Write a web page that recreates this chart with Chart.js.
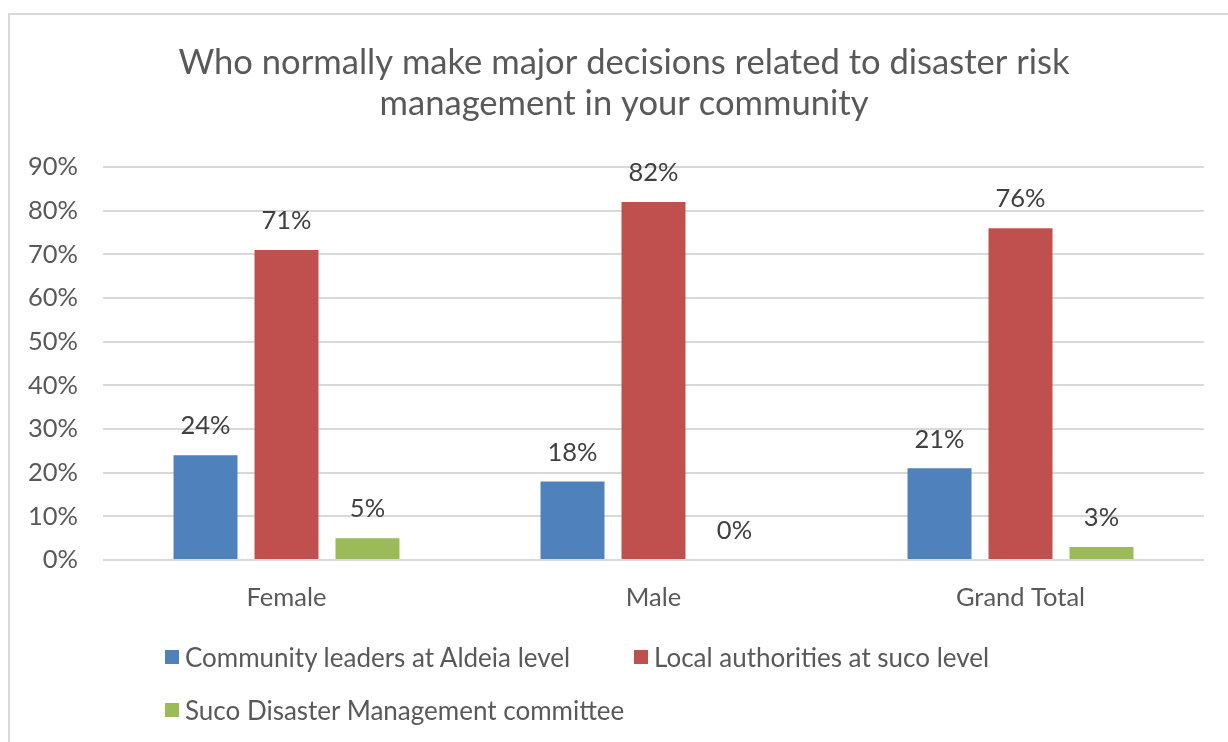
<!DOCTYPE html>
<html>
<head>
<meta charset="utf-8">
<script src="https://cdn.jsdelivr.net/npm/chart.js@4/dist/chart.umd.min.js"></script>
<style>
  html, body { margin: 0; padding: 0; background: #fff; overflow: hidden; }
  #wrap { position: relative; width: 1228px; height: 742px; overflow: hidden; }
  #frame {
    position: absolute; left: 8px; top: 13px; width: 1240px; height: 760px;
    border: 2px solid #d9d9d9; box-sizing: border-box;
  }
  canvas { position: absolute; left: 0; top: 0; }
  #legend {
    position: absolute; left: 165px; top: 639px;
    display: grid; grid-template-columns: 469px 469px; row-gap: 17px;
    font-family: Lato, sans-serif; font-size: 26px; color: #595959;
  }
  #legend .item { display: flex; align-items: center; height: 36px; white-space: nowrap; }
  #legend .swatch { width: 14px; height: 14px; margin-right: 6px; flex: none; }
</style>
</head>
<body>
<div id="wrap">
  <div id="frame"></div>
  <canvas id="barChart" width="1248" height="742"></canvas>
  <div id="legend"></div>
</div>
<script>
const FONT = 'Lato, sans-serif';

const categories = ['Female', 'Male', 'Grand Total'];
const seriesNames = [
  'Community leaders at Aldeia level',
  'Local authorities at suco level',
  'Suco Disaster Management committee'
];
const communityLeaders = [24, 18, 21];
const localAuthorities = [71, 82, 76];
const sucoCommittee = [5, 0, 3];
const yMax = 90;
const yStep = 10;

const colors = ['#4f81bd', '#c0504d', '#9bbb59'];
const values = [communityLeaders, localAuthorities, sucoCommittee];

// value labels above each bar
const barLabels = {
  id: 'barLabels',
  afterDatasetsDraw(chart) {
    const ctx = chart.ctx;
    ctx.save();
    ctx.font = '25.5px ' + FONT;
    ctx.fillStyle = '#404040';
    ctx.textAlign = 'center';
    ctx.textBaseline = 'middle';
    chart.data.datasets.forEach((ds, i) => {
      chart.getDatasetMeta(i).data.forEach((bar, j) => {
        ctx.fillText(ds.data[j] + '%', bar.x, bar.y - 29);
      });
    });
    ctx.restore();
  }
};

const chart = new Chart(document.getElementById('barChart'), {
  type: 'bar',
  data: {
    labels: categories,
    datasets: values.map((v, i) => ({
      label: seriesNames[i],
      data: v,
      backgroundColor: colors[i],
      borderWidth: 0,
      categoryPercentage: 0.662,
      barPercentage: 0.79,
      yAxisID: 'y'
    }))
  },
  options: {
    responsive: false,
    animation: false,
    layout: { padding: 0 },
    plugins: {
      legend: { display: false },
      tooltip: { enabled: false },
      title: {
        display: true,
        text: ['Who normally make major decisions related to disaster risk',
               'management in your community'],
        color: '#595959',
        font: { family: FONT, size: 34.6, weight: 'normal', lineHeight: 1.2 },
        padding: { top: 42, bottom: 42 }
      }
    },
    scales: {
      x: {
        grid: { display: false },
        border: { display: false },
        ticks: { color: '#595959', font: { family: FONT, size: 25.5 }, padding: 14 },
        afterFit(scale) { scale.height = 182; }
      },
      y: {
        min: 0,
        max: yMax,
        grid: { color: '#d9d9d9', lineWidth: 2, drawTicks: false },
        border: { display: false },
        ticks: {
          stepSize: yStep,
          color: '#595959',
          font: { family: FONT, size: 25.5 },
          padding: 25,
          callback: v => v + '%'
        },
        afterFit(scale) { scale.width = 103; }
      },
      // empty right-hand gutter so the plot stops short of the frame edge
      gutter: {
        type: 'linear',
        position: 'right',
        grid: { display: false },
        border: { display: false },
        ticks: { display: false },
        afterFit(scale) { scale.width = 44; }
      }
    }
  },
  plugins: [barLabels]
});

// legend laid out in two columns below the plot
const legendEl = document.getElementById('legend');
chart.data.datasets.forEach(ds => {
  const item = document.createElement('div');
  item.className = 'item';
  const sw = document.createElement('span');
  sw.className = 'swatch';
  sw.style.background = ds.backgroundColor;
  const txt = document.createElement('span');
  txt.textContent = ds.label;
  item.appendChild(sw);
  item.appendChild(txt);
  legendEl.appendChild(item);
});
</script>
</body>
</html>
